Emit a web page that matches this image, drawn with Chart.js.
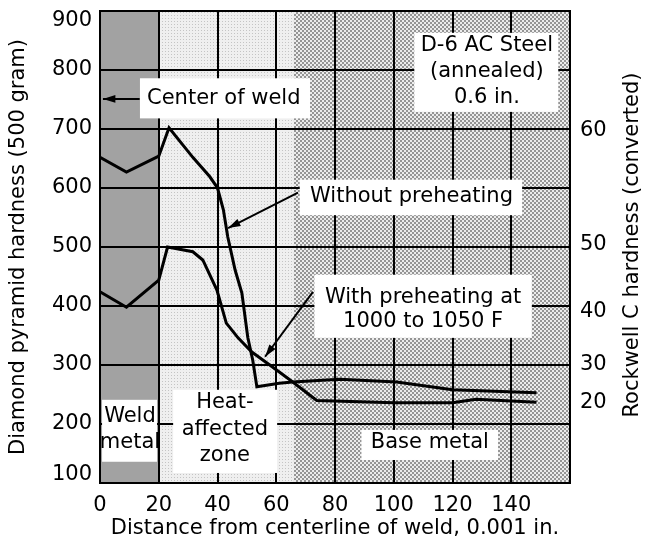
<!DOCTYPE html>
<html>
<head>
<meta charset="utf-8">
<script src="https://cdn.jsdelivr.net/npm/chart.js@4/dist/chart.umd.min.js"></script>
<style>
  html, body { margin: 0; padding: 0; background: #fff; }
</style>
</head>
<body>
<canvas id="myChart" width="645" height="549"></canvas>
<script>
// hardness traverse
const withoutX = [0, 9, 20, 23.5, 31.6, 37.4, 40, 42, 43.5, 46, 48.3, 50.3, 52, 53.4, 61, 65.6, 81.6, 101, 120, 148.6];
const withoutY = [652, 627, 654, 702, 652, 619, 600, 563, 517, 461, 422, 347, 308, 263, 269, 271, 276, 271, 258, 253];

const withX = [0, 9, 20, 23, 31.6, 35, 39.8, 43, 47, 51.7, 60, 64.6, 73.8, 100, 120, 128, 148.6];
const withY = [424, 398, 444, 500, 492, 478, 427, 371, 346, 322, 292, 275, 240, 236, 236, 242, 237];

const xTicks = [0, 20, 40, 60, 80, 100, 120, 140];
const rockwellLabels = [60, 50, 40, 30, 20];
const rockwellAt = [697, 505, 390, 300, 236]; // DPH value where each Rockwell C label sits

const weldEnd = 20;
const hazEnd = 66;

const FONT = "DejaVu Sans, sans-serif";

function makePattern(bg, dot, size, dots) {
    const c = document.createElement('canvas');
    c.width = size; c.height = size;
    const p = c.getContext('2d');
    p.fillStyle = bg;
    p.fillRect(0, 0, size, size);
    p.fillStyle = dot;
    dots.forEach(d => p.fillRect(d[0], d[1], d[2], d[2]));
    return p.createPattern(c, 'repeat');
}

const ctx = document.getElementById('myChart').getContext('2d');
const hazFill = makePattern('#efefef', '#c4c4c4', 3, [[0, 0, 1]]);
const baseFill = makePattern('#ececec', '#959595', 4, [[0, 0, 2], [2, 2, 2]]);

const zonePlugin = {
    id: 'zones',
    beforeDraw(chart) {
        const {ctx, chartArea, scales: {x}} = chart;
        const t = chartArea.top, h = chartArea.bottom - chartArea.top;
        ctx.save();
        ctx.fillStyle = '#a2a2a2';
        ctx.fillRect(x.getPixelForValue(0), t, x.getPixelForValue(weldEnd) - x.getPixelForValue(0), h);
        ctx.fillStyle = hazFill;
        ctx.fillRect(x.getPixelForValue(weldEnd), t, x.getPixelForValue(hazEnd) - x.getPixelForValue(weldEnd), h);
        ctx.fillStyle = baseFill;
        ctx.fillRect(x.getPixelForValue(hazEnd), t, chartArea.right - x.getPixelForValue(hazEnd), h);
        ctx.restore();
    }
};

// text boxes, in data units: [x0, x1, yTop, yBottom], lines [text, x, y]
const notes = [
    { box: [13.6, 71.5, 786, 718], align: 'left', lines: [['Center of weld', 16, 751]] },
    { box: [107, 156, 863, 729], align: 'center', lines: [['D-6 AC Steel', 131.7, 842], ['(annealed)', 131.7, 797], ['0.6 in.', 131.7, 754]] },
    { box: [68, 143.7, 614, 554], align: 'left', lines: [['Without preheating', 71.5, 585]] },
    { box: [73, 147, 453, 346], align: 'center', lines: [['With preheating at', 110, 415], ['1000 to 1050 F', 110, 373]] },
    { box: [0.7, 19.4, 241, 136], align: 'center', lines: [['Weld', 10.2, 212], ['metal', 10.2, 168]] },
    { box: [24.9, 60.3, 258, 117], align: 'center', lines: [['Heat-', 42.5, 236], ['affected', 42.5, 190], ['zone', 42.5, 147]] },
    { box: [89, 135.5, 190, 139], align: 'center', lines: [['Base metal', 112.3, 168]] }
];
const arrows = [
    [13.5, 751, 1, 751],
    [67.4, 592, 43.6, 532],
    [72.5, 424, 56.2, 314]
];

const notePlugin = {
    id: 'notes',
    afterDatasetsDraw(chart) {
        const {ctx, scales: {x, y}, chartArea} = chart;
        ctx.save();
        notes.forEach(n => {
            const bx = x.getPixelForValue(n.box[0]), by = y.getPixelForValue(n.box[2]);
            ctx.fillStyle = '#fff';
            ctx.fillRect(bx, by, x.getPixelForValue(n.box[1]) - bx, y.getPixelForValue(n.box[3]) - by);
            ctx.fillStyle = '#000';
            ctx.font = '21px ' + FONT;
            ctx.textAlign = n.align;
            ctx.textBaseline = 'middle';
            n.lines.forEach(l => ctx.fillText(l[0], x.getPixelForValue(l[1]), y.getPixelForValue(l[2])));
        });
        ctx.strokeStyle = '#000';
        ctx.fillStyle = '#000';
        ctx.lineWidth = 2;
        arrows.forEach(a => {
            const x1 = x.getPixelForValue(a[0]), y1 = y.getPixelForValue(a[1]);
            const x2 = x.getPixelForValue(a[2]), y2 = y.getPixelForValue(a[3]);
            ctx.beginPath();
            ctx.moveTo(x1, y1);
            ctx.lineTo(x2, y2);
            ctx.stroke();
            const ang = Math.atan2(y2 - y1, x2 - x1);
            ctx.beginPath();
            ctx.moveTo(x2, y2);
            ctx.lineTo(x2 - 13 * Math.cos(ang - 0.3), y2 - 13 * Math.sin(ang - 0.3));
            ctx.lineTo(x2 - 13 * Math.cos(ang + 0.3), y2 - 13 * Math.sin(ang + 0.3));
            ctx.closePath();
            ctx.fill();
        });
        // end labels of the left axis sit inside the frame
        ctx.font = '21px ' + FONT;
        ctx.textAlign = 'right';
        ctx.textBaseline = 'middle';
        ctx.fillText('900', chartArea.left - 8, y.getPixelForValue(900) + 10);
        ctx.fillText('100', chartArea.left - 8, y.getPixelForValue(100) - 8);
        // right axis title reads bottom to top
        ctx.textAlign = 'center';
        ctx.translate(633, 245);
        ctx.rotate(-Math.PI / 2);
        ctx.fillText('Rockwell C hardness (converted)', 0, 0);
        ctx.restore();
    }
};

const data = {
    datasets: [
        {
            label: 'Without preheating',
            data: withoutX.map((v, i) => ({x: v, y: withoutY[i]})),
            borderColor: '#000',
            borderWidth: 3,
            pointRadius: 0,
            tension: 0,
            yAxisID: 'y'
        },
        {
            label: 'With preheating at 1000 to 1050 F',
            data: withX.map((v, i) => ({x: v, y: withY[i]})),
            borderColor: '#000',
            borderWidth: 3,
            pointRadius: 0,
            tension: 0,
            yAxisID: 'y'
        }
    ]
};

const config = {
    type: 'line',
    data: data,
    options: {
        responsive: false,
        animation: false,
        devicePixelRatio: 1,
        layout: { padding: { top: 11, left: 0, right: 0, bottom: 0 } },
        plugins: { legend: { display: false }, tooltip: { enabled: false } },
        scales: {
            x: {
                type: 'linear',
                min: 0,
                max: 160,
                afterBuildTicks: s => { s.ticks = xTicks.concat([160]).map(v => ({value: v})); },
                ticks: {
                    callback: v => (v === 160 ? '' : v),
                    font: { family: FONT, size: 21 },
                    color: '#000',
                    padding: 10,
                    maxRotation: 0,
                    autoSkip: false
                },
                grid: { color: '#000', lineWidth: 2, drawTicks: false },
                border: { color: '#000', width: 2 },
                title: {
                    display: true,
                    text: 'Distance from centerline of weld, 0.001 in.',
                    font: { family: FONT, size: 21 },
                    color: '#000',
                    padding: { top: 0, bottom: 8 }
                },
                afterFit: s => { s.height = 66; }
            },
            y: {
                position: 'left',
                min: 100,
                max: 900,
                ticks: {
                    stepSize: 100,
                    callback: v => (v === 900 || v === 100 ? '' : v),
                    font: { family: FONT, size: 21 },
                    color: '#000',
                    padding: 8
                },
                grid: { color: '#000', lineWidth: 2, drawTicks: false },
                border: { color: '#000', width: 2 },
                title: {
                    display: true,
                    text: 'Diamond pyramid hardness (500 gram)',
                    font: { family: FONT, size: 21 },
                    color: '#000',
                    padding: { top: 6, bottom: 0 }
                },
                afterFit: s => { s.width = 100; s.paddingTop = 0; s.paddingBottom = 0; }
            },
            y2: {
                position: 'right',
                min: 100,
                max: 900,
                afterBuildTicks: s => { s.ticks = rockwellAt.map(v => ({value: v})); },
                ticks: {
                    callback: (v, i) => rockwellLabels[i],
                    font: { family: FONT, size: 21 },
                    color: '#000',
                    padding: 10,
                    autoSkip: false
                },
                grid: { display: false, drawTicks: false },
                border: { color: '#000', width: 2 },
                afterFit: s => { s.width = 75; s.paddingTop = 0; s.paddingBottom = 0; }
            }
        }
    },
    plugins: [zonePlugin, notePlugin]
};

const myChart = new Chart(ctx, config);
</script>
</body>
</html>
